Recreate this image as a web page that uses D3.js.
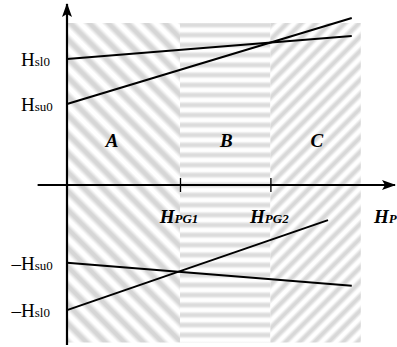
<!DOCTYPE html>
<html>
<head>
<meta charset="utf-8">
<script src="https://cdn.jsdelivr.net/npm/d3@7"></script>
<style>
  body { margin: 0; background: #fff; }
  svg { display: block; }
</style>
</head>
<body>
<script>
// Operating regions along the H_P axis
const zoneNames = ["A", "B", "C"];
const zoneEdges = [0, 1, 1.8, 2.6];
const zoneLabelX = [0.4, 1.41, 2.21];
const zoneLabelLevel = 0.84;

// Axis ticks
const xTickValues = [1, 1.8];
const xTickSubs = ["PG1", "PG2"];
const yTickValues = [2.8, 1.8, -1.73, -2.78];
const yTickSigns = ["", "", "\u2013", "\u2013"];
const yTickSubs = ["sl0", "su0", "su0", "sl0"];

// Boundary lines: [x, y] end points
const upperSl = [[0, 2.8], [2.52, 3.31]];
const upperSu = [[0, 1.8], [2.52, 3.71]];
const lowerSu = [[0, -1.73], [2.52, -2.24]];
const lowerSl = [[0, -2.78], [2.31, -0.78]];
const boundaryLines = [upperSl, upperSu, lowerSu, lowerSl];

const W = 397, H = 347;
const x = d3.scaleLinear().domain([0, 2.6]).range([67, 360.8]);
const y = d3.scaleLinear().domain([0, 4]).range([185, 5]);

const svg = d3.select("body").append("svg")
  .attr("width", W).attr("height", H)
  .attr("viewBox", `0 0 ${W} ${H}`);

const defs = svg.append("defs");

// Soft stripe fills
function stripePattern(id, period, angle, color) {
  const gid = id + "-g";
  const g = defs.append("linearGradient").attr("id", gid)
    .attr("x1", 0).attr("x2", 1).attr("y1", 0).attr("y2", 0);
  [[0, "#fff"], [0.12, "#fff"], [0.4, color], [0.6, color], [0.88, "#fff"], [1, "#fff"]]
    .forEach(([o, c]) => g.append("stop").attr("offset", o).attr("stop-color", c));
  const p = defs.append("pattern").attr("id", id)
    .attr("patternUnits", "userSpaceOnUse")
    .attr("width", period).attr("height", 40)
    .attr("patternTransform", `rotate(${angle})`);
  p.append("rect").attr("width", period).attr("height", 40).attr("fill", `url(#${gid})`);
}
stripePattern("hatchA", 13.4, -45, "#d6d6d6");
stripePattern("hatchB", 10, 90, "#dcdcdc");
stripePattern("hatchC", 10.2, 45, "#d8d8d8");
const fills = ["url(#hatchA)", "url(#hatchB)", "url(#hatchC)"];

const yTop = 3.6, yBot = -3.5;
svg.append("g").selectAll("rect")
  .data(zoneNames)
  .join("rect")
  .attr("x", (d, i) => x(zoneEdges[i]))
  .attr("width", (d, i) => x(zoneEdges[i + 1]) - x(zoneEdges[i]))
  .attr("y", y(yTop))
  .attr("height", y(yBot) - y(yTop))
  .attr("fill", (d, i) => fills[i]);

// Arrow heads
defs.append("marker").attr("id", "arrow")
  .attr("viewBox", "0 0 14 10")
  .attr("refX", 13).attr("refY", 5)
  .attr("markerWidth", 14).attr("markerHeight", 10)
  .attr("markerUnits", "userSpaceOnUse")
  .attr("orient", "auto")
  .append("path").attr("d", "M0,0 L14,5 L0,10 L3,5 Z").attr("fill", "#000");

// Boundary lines
const lineGen = d3.line().x(d => x(d[0])).y(d => y(d[1]));
svg.append("g").selectAll("path")
  .data(boundaryLines)
  .join("path")
  .attr("d", lineGen)
  .attr("fill", "none")
  .attr("stroke", "#000")
  .attr("stroke-width", 2);

// Axes
svg.append("line")
  .attr("x1", x(-0.26)).attr("x2", 395)
  .attr("y1", y(0)).attr("y2", y(0))
  .attr("stroke", "#000").attr("stroke-width", 2)
  .attr("marker-end", "url(#arrow)");
svg.append("line")
  .attr("x1", x(0)).attr("x2", x(0))
  .attr("y1", 345).attr("y2", 4)
  .attr("stroke", "#000").attr("stroke-width", 2.2)
  .attr("marker-end", "url(#arrow)");

const xAxis = svg.append("g")
  .attr("transform", `translate(0,${y(0)})`)
  .call(d3.axisBottom(x).tickValues(xTickValues).tickSize(7).tickFormat(""));
xAxis.select(".domain").remove();
xAxis.selectAll(".tick line").attr("y1", -7).attr("stroke-width", 1.3);

const serif = "'Liberation Serif', 'Times New Roman', serif";

// H_PG tick labels
const xl = svg.append("g").selectAll("text")
  .data(xTickValues)
  .join("text")
  .attr("x", d => x(d) - 1)
  .attr("y", 223)
  .attr("text-anchor", "middle")
  .attr("font-family", serif)
  .attr("font-weight", "bold")
  .attr("font-style", "italic")
  .attr("font-size", 19);
xl.append("tspan").text("H");
xl.append("tspan").attr("font-size", 13).text((d, i) => xTickSubs[i]);

// Axis title
const xt = svg.append("text")
  .attr("x", 374).attr("y", 223)
  .attr("font-family", serif).attr("font-weight", "bold")
  .attr("font-style", "italic").attr("font-size", 19);
xt.append("tspan").text("H");
xt.append("tspan").attr("font-size", 13).text("P");

// Y tick labels
const yl = svg.append("g").selectAll("g")
  .data(yTickValues)
  .join("g")
  .attr("transform", d => `translate(21,${y(d) + 7})`)
  .attr("font-family", serif)
  .attr("font-size", 19);
yl.append("text").attr("text-anchor", "end").text((d, i) => yTickSigns[i]);
const yt = yl.append("text");
yt.append("tspan").text("H");
yt.append("tspan").attr("font-size", 13).text((d, i) => yTickSubs[i]);

// Region labels
svg.append("g").selectAll("text")
  .data(zoneNames)
  .join("text")
  .attr("x", (d, i) => x(zoneLabelX[i]))
  .attr("y", y(zoneLabelLevel))
  .attr("text-anchor", "middle")
  .attr("font-family", serif)
  .attr("font-weight", "bold")
  .attr("font-style", "italic")
  .attr("font-size", 19)
  .text(d => d);
</script>
</body>
</html>
